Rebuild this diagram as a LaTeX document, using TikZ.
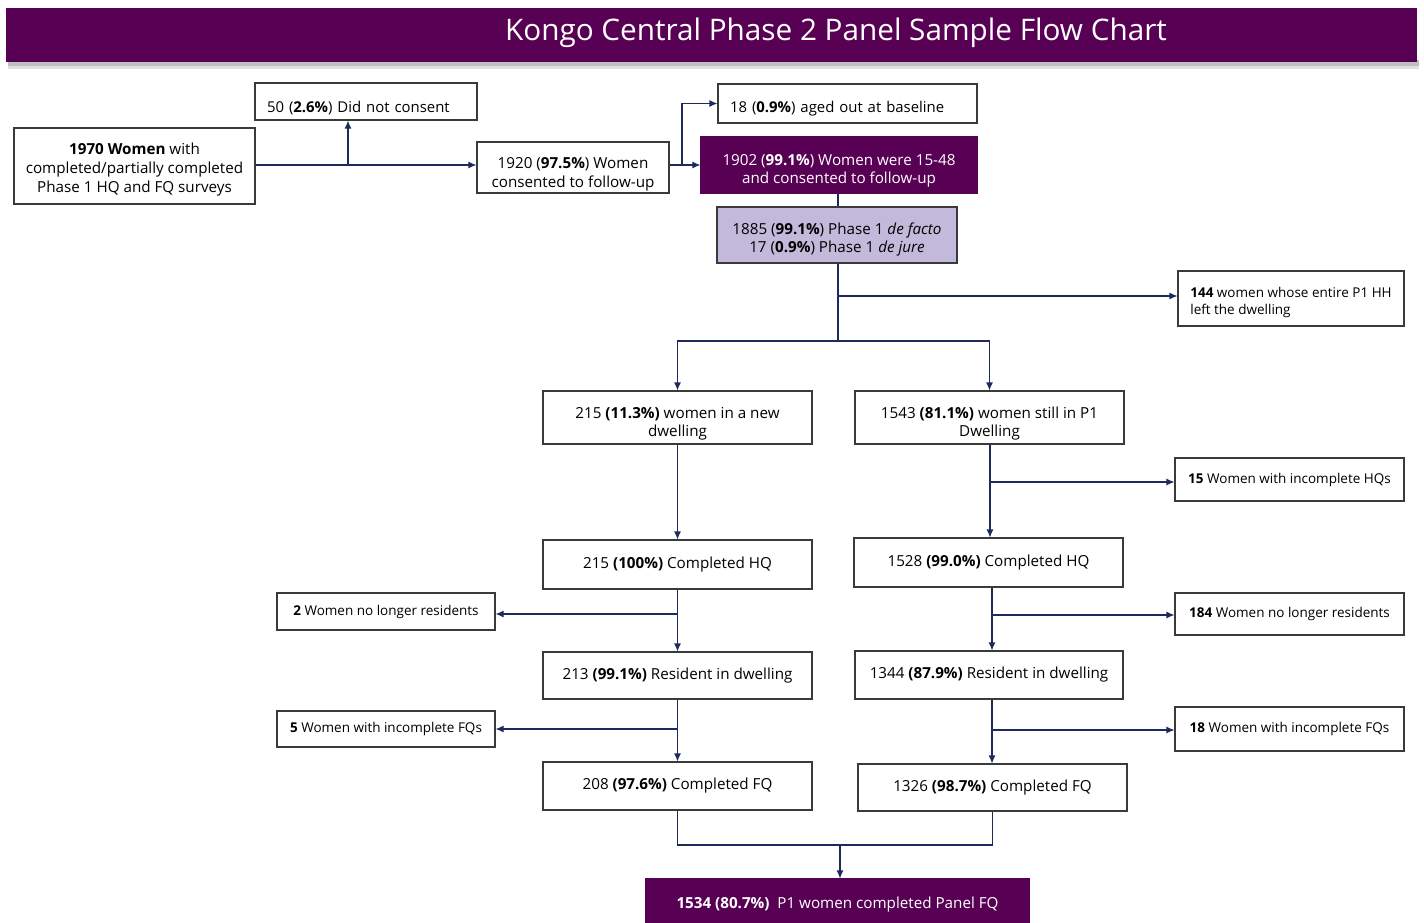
\documentclass[tikz,border=0pt]{standalone}
\usepackage{fontspec}
\setmainfont{Open Sans}
\usepackage{xcolor}
\usepackage{tikz}
\usetikzlibrary{calc,arrows.meta}
\definecolor{plum}{HTML}{570054}
\definecolor{lilac}{HTML}{C2B9DB}
\definecolor{navy}{HTML}{1F2A5C}
\definecolor{edge}{HTML}{3A3A3A}
\tikzset{
  box/.style={draw=edge, line width=1.1pt, fill=white, align=center, inner sep=2pt,
    font=\fontsize{15.2}{18.5}\selectfont},
  textv/.style={text height=#1pt, text depth=4pt},
  plumBox/.style={box, fill=plum, draw=plum, text=white},
  lilacBox/.style={box, fill=lilac},
  sideBox/.style={box, font=\fontsize{13.5}{17}\selectfont},
  noteBox/.style={box, font=\fontsize{14.9}{18}\selectfont, align=left, inner xsep=12pt},
  sz/.style 2 args={minimum width=#1pt, minimum height=#2pt},
  link/.style={draw=navy, line width=1.1pt},
  flow/.style={link, -{Latex[length=8pt,width=7pt]}},
}

\begin{document}
\begin{tikzpicture}[x=1pt, y=-1pt]
  \useasboundingbox (0,0) rectangle (1424,923);

  % Title bar
  \fill[black!25] (8,60) rectangle (1419,66);
  \fill[black!12] (8,66) rectangle (1419,69);
  \fill[plum] (6,8) rectangle (1417,62);
  \node[text=white, font=\fontsize{29.7}{34}\selectfont] (title) at (836,33)
    {Kongo Central Phase 2 Panel Sample Flow Chart};

  % Top row
  \node[box, textv=57, font=\fontsize{15.2}{19}\selectfont, sz={241}{76}] (start) at (134.5,166)
    {\textbf{1970 Women} with\\completed/partially completed\\Phase 1 HQ and FQ surveys};
  \node[noteBox, textv=26, text width=198pt, minimum height=37pt] (nocons) at (366,101.5)
    {50 (\textbf{2.6\%}) Did not consent};
  \node[box, textv=43, sz={192}{51}] (cons) at (573,167.5) {1920 (\textbf{97.5\%}) Women\\consented to follow-up};
  \node[noteBox, textv=22, text width=235pt, minimum height=39pt] (aged) at (847.5,103.5)
    {18 (\textbf{0.9\%}) aged out at baseline};
  \node[plumBox, textv=41, sz={276}{56}] (elig) at (839,165)
    {1902 (\textbf{99.1\%}) Women were 15-48\\and consented to follow-up};
  \node[lilacBox, textv=39, font=\fontsize{15.2}{18}\selectfont, sz={240}{56}] (facto) at (837,235)
    {1885 (\textbf{99.1\%}) Phase 1 \textit{de facto}\\17 (\textbf{0.9\%}) Phase 1 \textit{de jure}};
  \node[sideBox, align=left, textv=36, sz={226}{55}] (left) at (1291,298.5)
    {\textbf{144} women whose entire P1 HH\\left the dwelling};

  % Two branches
  \node[box, textv=42, sz={269}{53}] (newdw) at (677.5,417.5) {215 \textbf{(11.3\%)} women in a new\\dwelling};
  \node[box, textv=42, sz={269}{53}] (still) at (989.5,417.5) {1543 \textbf{(81.1\%)} women still in P1\\Dwelling};
  \node[sideBox, sz={229}{43}] (incHQ) at (1289.5,479.5) {\textbf{15} Women with incomplete HQs};

  \node[box, sz={269}{49}] (hqL) at (677.5,564.5) {215 \textbf{(100\%)} Completed HQ};
  \node[box, sz={269}{49}] (hqR) at (988.5,562.5) {1528 \textbf{(99.0\%)} Completed HQ};
  \node[sideBox, sz={218}{37}] (goneL) at (386,611.5) {\textbf{2} Women no longer residents};
  \node[sideBox, sz={229}{42}] (goneR) at (1289.5,614) {\textbf{184} Women no longer residents};

  \node[box, sz={269}{47}] (dwL) at (677.5,675.5) {213 \textbf{(99.1\%)} Resident in dwelling};
  \node[box, sz={268}{48}] (dwR) at (989,675) {1344 \textbf{(87.9\%)} Resident in dwelling};
  \node[sideBox, sz={218}{36}] (incFQL) at (386,729) {\textbf{5} Women with incomplete FQs};
  \node[sideBox, sz={229}{44}] (incFQR) at (1289.5,729) {\textbf{18} Women with incomplete FQs};

  \node[box, sz={269}{48}] (fqL) at (677.5,786) {208 \textbf{(97.6\%)} Completed FQ};
  \node[box, sz={269}{47}] (fqR) at (992.5,787.5) {1326 \textbf{(98.7\%)} Completed FQ};

  \node[plumBox, textv=19, sz={383}{44}] (panel) at (837.5,901)
    {\textbf{1534 (80.7\%)}\ \ P1 women completed Panel FQ};

  % Junctions
  \coordinate (j1) at (348,165);
  \coordinate (j2) at (682,165);
  \coordinate (j3) at (838,296);
  \coordinate (j4) at (838,341);
  \coordinate (j5) at (990,482);
  \coordinate (j6) at (678,614);
  \coordinate (j7) at (992,615);
  \coordinate (j8) at (678,729);
  \coordinate (j9) at (992,730);
  \coordinate (j10) at (840,845);

  % Connectors, top
  \draw[flow] (start.east |- j1) -- (cons.west |- j1);
  \draw[flow] (j1) -- (j1 |- nocons.south);
  \draw[flow] (cons.east |- j2) -- (elig.west |- j2);
  \draw[flow] (j2) |- (aged.west);
  \draw[link] (facto.north -| j4) -- (elig.south -| j4);
  \draw[link] (facto.south -| j4) -- (j4);
  \draw[flow] (j3) -- (left.west |- j3);
  \draw[flow] (j4) -| (newdw.north);
  \draw[flow] (j4) -| (still.north);

  % Left column
  \draw[flow] (newdw.south) -- (hqL.north);
  \draw[flow] (hqL.south) -- (dwL.north);
  \draw[flow] (j6) -- (goneL.east |- j6);
  \draw[flow] (dwL.south) -- (fqL.north);
  \draw[flow] (j8) -- (incFQL.east |- j8);

  % Right column
  \draw[flow] (j5 |- still.south) -- (j5 |- hqR.north);
  \draw[flow] (j5) -- (incHQ.west |- j5);
  \draw[flow] (j7 |- hqR.south) -- (j7 |- dwR.north);
  \draw[flow] (j7) -- (goneR.west |- j7);
  \draw[flow] (j9 |- dwR.south) -- (j9 |- fqR.north);
  \draw[flow] (j9) -- (incFQR.west |- j9);

  % Merge
  \draw[link] (fqL.south) |- (j10) -| (fqR.south);
  \draw[flow] (j10) -- (panel.north -| j10);
\end{tikzpicture}
\end{document}
